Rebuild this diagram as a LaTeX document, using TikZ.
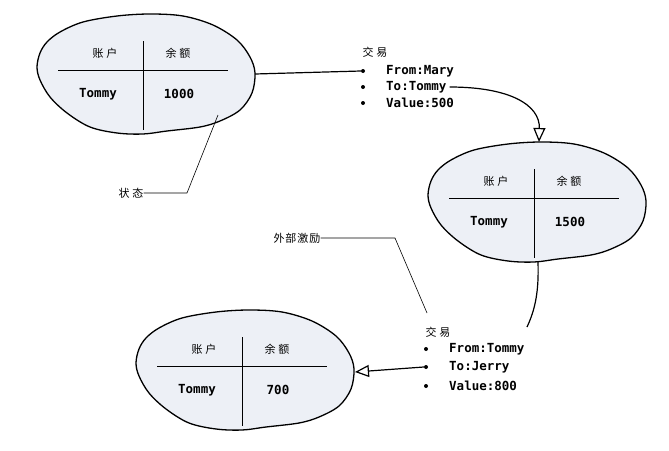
\documentclass[tikz,border=0pt]{standalone}
\usepackage{fontspec}
\setmonofont{DejaVu Sans Mono}
\newfontfamily\cjk{Noto Sans CJK SC}
\usetikzlibrary{arrows.meta}
\definecolor{blobfill}{RGB}{237,240,246}
\newcommand\myblob[5]{%
 \begin{scope}[shift={(#2,#3)}]
  \draw[blobshape] plot[smooth cycle, tension=0.55] coordinates {
   (-103,-17) (-96,-28) (-83,-38) (-60,-48) (-26,-54) (7,-56) (40,-54) (70,-45)
   (94,-30) (107,-13) (112,3) (109,23) (97,40) (77,51) (57,57) (24,61) (0,64)
   (-26,63) (-53,57) (-76,43) (-93,27) (-103,10) (-106,-3)};
  \coordinate (#1c) at (0,0);
  \coordinate (#1R) at (112,4);
  \coordinate (#1B) at (4,64);
  \coordinate (#1vt) at (0,-29);
  \coordinate (#1vb) at (0,60);
  \coordinate (#1hl) at (-85,0);
  \coordinate (#1hr) at (85,0);
  \draw[tabline] (#1vt) -- (#1vb);
  \draw[tabline] (#1hl) -- (#1hr);
  \node[head] (#1ha) at (-38,-17) {账\hspace{3pt}户};
  \node[head] (#1hb) at (35,-17) {余\hspace{3pt}额};
  \node[cell] (#1ca) at (-45,24) {#4};
  \node[cell] (#1cb) at (36,24) {#5};
 \end{scope}}
\begin{document}
\begin{tikzpicture}[x=1pt,y=-1pt,
  blobshape/.style={draw=black, line width=1.3pt, fill=blobfill},
  tabline/.style={draw=black, line width=0.9pt},
  callout/.style={draw=black, line width=0.6pt},
  conn/.style={draw=black, line width=1.2pt},
  head/.style={font=\cjk\fontsize{11}{13}\selectfont, inner sep=0pt},
  cell/.style={font=\ttfamily\bfseries\fontsize{12.5}{14}\selectfont, inner sep=0pt},
  item/.style={font=\ttfamily\bfseries\fontsize{12.5}{14}\selectfont, inner sep=0pt, anchor=west},
  dot/.style={circle, fill=black, inner sep=0pt, minimum size=4pt},
  lbl/.style={font=\cjk\fontsize{11}{13}\selectfont, inner sep=0pt},
  openarrow/.style={-{Triangle[open, length=14pt, width=12pt, fill=white]}}
]
\useasboundingbox (0,0) rectangle (669,450);

\myblob{ba}{143}{70}{Tommy}{1000}
\myblob{bb}{534}{198}{Tommy}{1500}
\myblob{bc}{242}{366}{Tommy}{700}

% transaction 1
\node[lbl] (t1h) at (375,52) {交\hspace{3pt}易};
\node[dot] (t1d1) at (363,71) {};
\node[dot] (t1d2) at (363,87) {};
\node[dot] (t1d3) at (363,103) {};
\node[item] (t1a) at (386,71) {From:Mary};
\node[item] (t1b) at (386,87) {To:Tommy};
\node[item] (t1c) at (386,103) {Value:500};

% transaction 2
\node[lbl] (t2h) at (438,332) {交\hspace{3pt}易};
\node[dot] (t2d1) at (426,349) {};
\node[dot] (t2d2) at (426,367) {};
\node[dot] (t2d3) at (426,386) {};
\node[item] (t2a) at (449,349) {From:Tommy};
\node[item] (t2b) at (449,367) {To:Jerry};
\node[item] (t2c) at (449,386) {Value:800};

% connectors
\draw[conn] (baR) -- (t1d1.west);
\coordinate (t1e) at ([xshift=3pt]t1b.east);
\coordinate (bbT) at (539,142);
\draw[conn, openarrow] (t1e) .. controls (510,87) and (540,105) .. (bbT);
\coordinate (t2top) at (527,327);
\draw[conn] (bbB) .. controls (539,292) and (535,310) .. (t2top);
\coordinate (bcR) at (355,372);
\draw[conn, openarrow] (t2d2.west) -- (bcR);

% callouts
\node[lbl] (st) at (131,193) {状\hspace{3pt}态};
\coordinate (stk) at (187,193);
\coordinate (stp) at (218,115);
\draw[callout] (st.east) -- (stk) -- (stp);
\node[lbl] (ext) at (297,238) {外\hspace{1pt}部\hspace{1pt}激\hspace{1pt}励};
\coordinate (exk) at (395,238);
\coordinate (exp) at (427,313);
\draw[callout] (ext.east) -- (exk) -- (exp);
\end{tikzpicture}
\end{document}
